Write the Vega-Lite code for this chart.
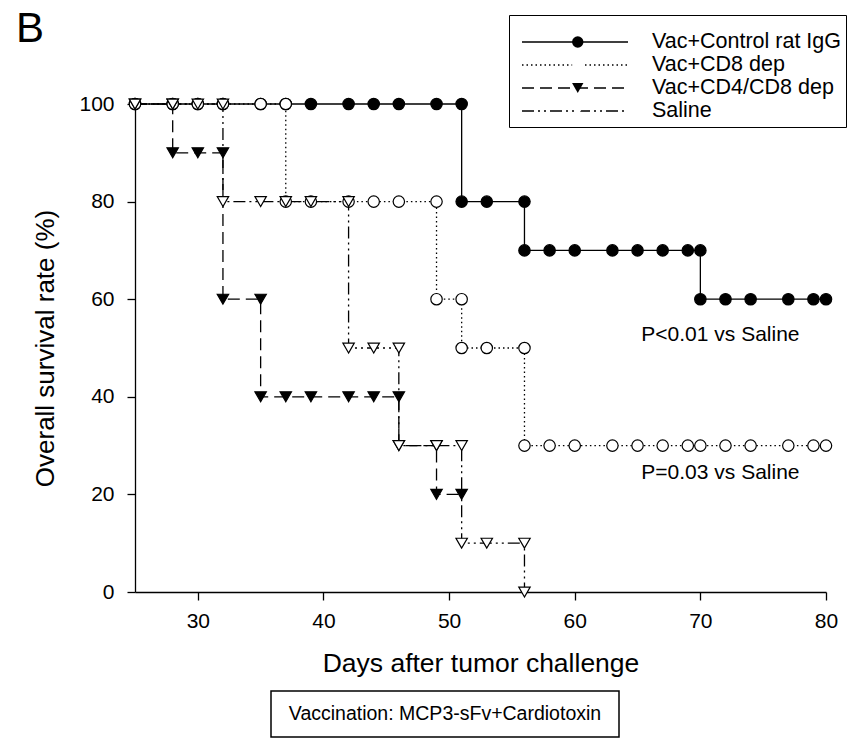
{
  "$schema": "https://vega.github.io/schema/vega-lite/v6.json",
  "background": "white",
  "padding": {"left": 15, "top": 7, "right": 5, "bottom": 0},
  "config": {"font": "Liberation Sans", "view": {"stroke": null}},
  "title": {"text": "B", "anchor": "start", "fontSize": 42, "fontWeight": "normal", "color": "black", "font": "Liberation Sans", "dx": -17, "offset": -36},
  "spacing": 13,
  "vconcat": [
    {
      "width": 691,
      "height": 488,
      "data": {"values": [
        {"group": "Vac+Control rat IgG", "i": 1, "day": 25, "rate": 100},
        {"group": "Vac+Control rat IgG", "i": 2, "day": 28, "rate": 100},
        {"group": "Vac+Control rat IgG", "i": 3, "day": 30, "rate": 100},
        {"group": "Vac+Control rat IgG", "i": 4, "day": 32, "rate": 100},
        {"group": "Vac+Control rat IgG", "i": 5, "day": 35, "rate": 100},
        {"group": "Vac+Control rat IgG", "i": 6, "day": 37, "rate": 100},
        {"group": "Vac+Control rat IgG", "i": 7, "day": 39, "rate": 100},
        {"group": "Vac+Control rat IgG", "i": 8, "day": 42, "rate": 100},
        {"group": "Vac+Control rat IgG", "i": 9, "day": 44, "rate": 100},
        {"group": "Vac+Control rat IgG", "i": 10, "day": 46, "rate": 100},
        {"group": "Vac+Control rat IgG", "i": 11, "day": 49, "rate": 100},
        {"group": "Vac+Control rat IgG", "i": 12, "day": 51, "rate": 100},
        {"group": "Vac+Control rat IgG", "i": 13, "day": 51, "rate": 80},
        {"group": "Vac+Control rat IgG", "i": 14, "day": 53, "rate": 80},
        {"group": "Vac+Control rat IgG", "i": 15, "day": 56, "rate": 80},
        {"group": "Vac+Control rat IgG", "i": 16, "day": 56, "rate": 70},
        {"group": "Vac+Control rat IgG", "i": 17, "day": 58, "rate": 70},
        {"group": "Vac+Control rat IgG", "i": 18, "day": 60, "rate": 70},
        {"group": "Vac+Control rat IgG", "i": 19, "day": 63, "rate": 70},
        {"group": "Vac+Control rat IgG", "i": 20, "day": 65, "rate": 70},
        {"group": "Vac+Control rat IgG", "i": 21, "day": 67, "rate": 70},
        {"group": "Vac+Control rat IgG", "i": 22, "day": 69, "rate": 70},
        {"group": "Vac+Control rat IgG", "i": 23, "day": 70, "rate": 70},
        {"group": "Vac+Control rat IgG", "i": 24, "day": 70, "rate": 60},
        {"group": "Vac+Control rat IgG", "i": 25, "day": 72, "rate": 60},
        {"group": "Vac+Control rat IgG", "i": 26, "day": 74, "rate": 60},
        {"group": "Vac+Control rat IgG", "i": 27, "day": 77, "rate": 60},
        {"group": "Vac+Control rat IgG", "i": 28, "day": 79, "rate": 60},
        {"group": "Vac+Control rat IgG", "i": 29, "day": 80, "rate": 60},
        {"group": "Vac+CD8 dep", "i": 1, "day": 25, "rate": 100},
        {"group": "Vac+CD8 dep", "i": 2, "day": 28, "rate": 100},
        {"group": "Vac+CD8 dep", "i": 3, "day": 30, "rate": 100},
        {"group": "Vac+CD8 dep", "i": 4, "day": 32, "rate": 100},
        {"group": "Vac+CD8 dep", "i": 5, "day": 35, "rate": 100},
        {"group": "Vac+CD8 dep", "i": 6, "day": 37, "rate": 100},
        {"group": "Vac+CD8 dep", "i": 7, "day": 37, "rate": 80},
        {"group": "Vac+CD8 dep", "i": 8, "day": 39, "rate": 80},
        {"group": "Vac+CD8 dep", "i": 9, "day": 42, "rate": 80},
        {"group": "Vac+CD8 dep", "i": 10, "day": 44, "rate": 80},
        {"group": "Vac+CD8 dep", "i": 11, "day": 46, "rate": 80},
        {"group": "Vac+CD8 dep", "i": 12, "day": 49, "rate": 80},
        {"group": "Vac+CD8 dep", "i": 13, "day": 49, "rate": 60},
        {"group": "Vac+CD8 dep", "i": 14, "day": 51, "rate": 60},
        {"group": "Vac+CD8 dep", "i": 15, "day": 51, "rate": 50},
        {"group": "Vac+CD8 dep", "i": 16, "day": 53, "rate": 50},
        {"group": "Vac+CD8 dep", "i": 17, "day": 56, "rate": 50},
        {"group": "Vac+CD8 dep", "i": 18, "day": 56, "rate": 30},
        {"group": "Vac+CD8 dep", "i": 19, "day": 58, "rate": 30},
        {"group": "Vac+CD8 dep", "i": 20, "day": 60, "rate": 30},
        {"group": "Vac+CD8 dep", "i": 21, "day": 63, "rate": 30},
        {"group": "Vac+CD8 dep", "i": 22, "day": 65, "rate": 30},
        {"group": "Vac+CD8 dep", "i": 23, "day": 67, "rate": 30},
        {"group": "Vac+CD8 dep", "i": 24, "day": 69, "rate": 30},
        {"group": "Vac+CD8 dep", "i": 25, "day": 70, "rate": 30},
        {"group": "Vac+CD8 dep", "i": 26, "day": 72, "rate": 30},
        {"group": "Vac+CD8 dep", "i": 27, "day": 74, "rate": 30},
        {"group": "Vac+CD8 dep", "i": 28, "day": 77, "rate": 30},
        {"group": "Vac+CD8 dep", "i": 29, "day": 79, "rate": 30},
        {"group": "Vac+CD8 dep", "i": 30, "day": 80, "rate": 30},
        {"group": "Vac+CD4/CD8 dep", "i": 1, "day": 25, "rate": 100},
        {"group": "Vac+CD4/CD8 dep", "i": 2, "day": 28, "rate": 100},
        {"group": "Vac+CD4/CD8 dep", "i": 3, "day": 28, "rate": 90},
        {"group": "Vac+CD4/CD8 dep", "i": 4, "day": 30, "rate": 90},
        {"group": "Vac+CD4/CD8 dep", "i": 5, "day": 32, "rate": 90},
        {"group": "Vac+CD4/CD8 dep", "i": 6, "day": 32, "rate": 60},
        {"group": "Vac+CD4/CD8 dep", "i": 7, "day": 35, "rate": 60},
        {"group": "Vac+CD4/CD8 dep", "i": 8, "day": 35, "rate": 40},
        {"group": "Vac+CD4/CD8 dep", "i": 9, "day": 37, "rate": 40},
        {"group": "Vac+CD4/CD8 dep", "i": 10, "day": 39, "rate": 40},
        {"group": "Vac+CD4/CD8 dep", "i": 11, "day": 42, "rate": 40},
        {"group": "Vac+CD4/CD8 dep", "i": 12, "day": 44, "rate": 40},
        {"group": "Vac+CD4/CD8 dep", "i": 13, "day": 46, "rate": 40},
        {"group": "Vac+CD4/CD8 dep", "i": 14, "day": 46, "rate": 30},
        {"group": "Vac+CD4/CD8 dep", "i": 15, "day": 49, "rate": 30},
        {"group": "Vac+CD4/CD8 dep", "i": 16, "day": 49, "rate": 20},
        {"group": "Vac+CD4/CD8 dep", "i": 17, "day": 51, "rate": 20},
        {"group": "Saline", "i": 1, "day": 25, "rate": 100},
        {"group": "Saline", "i": 2, "day": 28, "rate": 100},
        {"group": "Saline", "i": 3, "day": 30, "rate": 100},
        {"group": "Saline", "i": 4, "day": 32, "rate": 100},
        {"group": "Saline", "i": 5, "day": 32, "rate": 80},
        {"group": "Saline", "i": 6, "day": 35, "rate": 80},
        {"group": "Saline", "i": 7, "day": 37, "rate": 80},
        {"group": "Saline", "i": 8, "day": 39, "rate": 80},
        {"group": "Saline", "i": 9, "day": 42, "rate": 80},
        {"group": "Saline", "i": 10, "day": 42, "rate": 50},
        {"group": "Saline", "i": 11, "day": 44, "rate": 50},
        {"group": "Saline", "i": 12, "day": 46, "rate": 50},
        {"group": "Saline", "i": 13, "day": 46, "rate": 30},
        {"group": "Saline", "i": 14, "day": 49, "rate": 30},
        {"group": "Saline", "i": 15, "day": 51, "rate": 30},
        {"group": "Saline", "i": 16, "day": 51, "rate": 10},
        {"group": "Saline", "i": 17, "day": 53, "rate": 10},
        {"group": "Saline", "i": 18, "day": 56, "rate": 10},
        {"group": "Saline", "i": 19, "day": 56, "rate": 0}
      ]},
      "encoding": {
        "x": {"field": "day", "type": "quantitative", "scale": {"domain": [25, 80]},
          "axis": {"values": [30, 40, 50, 60, 70, 80], "title": "Days after tumor challenge", "titleFontSize": 26.5, "titleFontWeight": "normal", "titleColor": "black", "titlePadding": 19, "labelFontSize": 21, "labelColor": "black", "labelPadding": 10, "labelFlush": false, "tickSize": 8, "tickColor": "black", "tickWidth": 1.3, "domainColor": "black", "domainWidth": 1.3, "grid": false}},
        "y": {"field": "rate", "type": "quantitative", "scale": {"domain": [0, 100]},
          "axis": {"values": [0, 20, 40, 60, 80, 100], "title": "Overall survival rate (%)", "titleFontSize": 26, "titleFontWeight": "normal", "titleColor": "black", "titlePadding": 20, "labelFontSize": 21, "labelColor": "black", "labelPadding": 13, "tickSize": 8, "tickColor": "black", "tickWidth": 1.3, "domainColor": "black", "domainWidth": 1.3, "grid": false}}
      },
      "layer": [
        {
          "mark": {"type": "line", "color": "black", "strokeWidth": 1.3},
          "encoding": {
            "strokeDash": {"field": "group", "type": "nominal",
              "sort": ["Vac+Control rat IgG", "Vac+CD8 dep", "Vac+CD4/CD8 dep", "Saline"],
              "scale": {"range": [[1, 0], [1.5, 3], [12, 6], [12, 4, 2, 4, 2, 4]]},
              "legend": {"orient": "none", "legendX": 374, "legendY": -89, "title": " ", "titleFontSize": 10, "titlePadding": 1.5, "padding": 4, "strokeColor": "black", "symbolType": "stroke", "symbolSize": 11236, "symbolStrokeWidth": 1.3, "symbolStrokeColor": "black", "symbolOffset": 8, "clipHeight": 23, "rowPadding": 0, "labelOffset": 23, "labelFontSize": 21.5, "labelColor": "black", "labelLimit": 400, "zindex": 1}},
            "order": {"field": "i", "type": "quantitative"}
          }
        },
        {
          "mark": {"type": "point", "filled": true, "size": 130, "stroke": "black", "strokeWidth": 1.2, "opacity": 1},
          "encoding": {
            "shape": {"field": "group", "type": "nominal",
              "scale": {"domain": ["Vac+Control rat IgG", "Vac+CD8 dep", "Vac+CD4/CD8 dep", "Saline"], "range": ["circle", "circle", "triangle-down", "triangle-down"]},
              "legend": {"orient": "none", "legendX": 374, "legendY": -89, "title": " ", "titleFontSize": 10, "titlePadding": 1.5, "padding": 4, "symbolSize": 130, "symbolStrokeWidth": 1.2, "symbolStrokeColor": "black", "symbolOffset": 54, "clipHeight": 23, "rowPadding": 0, "labelOffset": 0, "labelFontSize": 21.5, "labelExpr": "''", "zindex": 2}},
            "fill": {"field": "group", "type": "nominal",
              "scale": {"domain": ["Vac+Control rat IgG", "Vac+CD8 dep", "Vac+CD4/CD8 dep", "Saline"], "range": ["black", "white", "black", "white"]},
              "legend": {"orient": "none", "legendX": 374, "legendY": -89, "title": " ", "titleFontSize": 10, "titlePadding": 1.5, "padding": 4, "symbolSize": 130, "symbolStrokeWidth": 1.2, "symbolStrokeColor": "black", "symbolOffset": 54, "clipHeight": 23, "rowPadding": 0, "labelOffset": 0, "labelFontSize": 21.5, "labelExpr": "''", "zindex": 2}}
          }
        },
        {
          "data": {"values": [
            {"label": "P<0.01 vs Saline", "day": 65.3, "rate": 52.6},
            {"label": "P=0.03 vs Saline", "day": 65.3, "rate": 24.3}
          ]},
          "mark": {"type": "text", "align": "left", "baseline": "middle", "fontSize": 21, "color": "black"},
          "encoding": {"text": {"field": "label", "type": "nominal"}}
        }
      ]
    },
    {
      "spacing": 0,
      "hconcat": [
        {
          "width": 135,
          "height": 46,
          "data": {"values": []},
          "mark": {"type": "text"},
          "encoding": {"text": {"field": "label", "type": "nominal"}}
        },
        {
          "width": 348,
          "height": 46,
          "view": {"stroke": "black", "strokeWidth": 1.5},
          "data": {"values": [{"label": "Vaccination:  MCP3-sFv+Cardiotoxin"}]},
          "mark": {"type": "text", "fontSize": 19.5, "color": "black"},
          "encoding": {"text": {"field": "label", "type": "nominal"}}
        }
      ]
    }
  ]
}
